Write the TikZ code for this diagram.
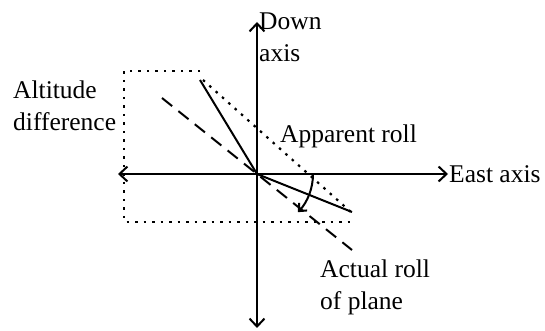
\documentclass[tikz,border=0pt]{standalone}
\usepackage{fontspec}
\setmainfont{Liberation Serif}
\usetikzlibrary{arrows.meta,calc}

\begin{document}
\begin{tikzpicture}[
  x=1pt, y=1pt,
  >={Straight Barb[length=8pt,width=15pt]},
  font=\fontsize{25.5}{32}\selectfont,
  axis/.style={<->, line width=2pt},
  roll/.style={line width=2pt},
  guide/.style={line width=2.2pt, dash pattern=on 2.5pt off 6pt},
  actual/.style={line width=2pt, dash pattern=on 13pt off 8pt},
  lab/.style={inner sep=0pt, align=left}
]
\useasboundingbox (0,0) rectangle (545,331);

% axes
\coordinate (o) at (257,157);
\coordinate (up) at (257,309);
\coordinate (down) at (257,3);
\coordinate (west) at (118,157);
\coordinate (east) at (448,157);
\draw[axis] (down) -- (up);
\draw[axis] (west) -- (east);

% dotted box and apparent roll
\coordinate (boxtl) at (124,260);
\coordinate (boxtr) at (200,260);
\coordinate (boxbl) at (124,109);
\coordinate (boxbr) at (352,109);
\draw[guide] (boxtr) -- (boxtl) -- (boxbl) -- (boxbr);
\coordinate (app1) at (203,251);
\coordinate (app2) at (352,118);
\draw[guide] (app1) -- (app2);

% wing as seen
\coordinate (wingl) at (200,251);
\coordinate (wingr) at (352,119);
\draw[roll] (wingl) -- (o) -- (wingr);

% actual roll
\coordinate (act1) at (162,233);
\coordinate (act2) at (352,81);
\draw[actual] (act1) -- (act2);
\draw[roll, -{Straight Barb[length=6pt,width=11pt]}] (o) ++(56,0) arc[start angle=0, end angle=-43, radius=56];

% labels
\node[lab, anchor=north west] (downlab) at (259,318) {Down\\axis};
\node[lab, anchor=north west] (altlab) at (13,250) {Altitude\\difference};
\node[lab, anchor=base west] (applab) at (280,188) {Apparent roll};
\node[lab, anchor=west] (eastlab) at (449,157) {East axis};
\node[lab, anchor=north west] (actlab) at (320,71) {Actual roll\\of plane};

\end{tikzpicture}
\end{document}
